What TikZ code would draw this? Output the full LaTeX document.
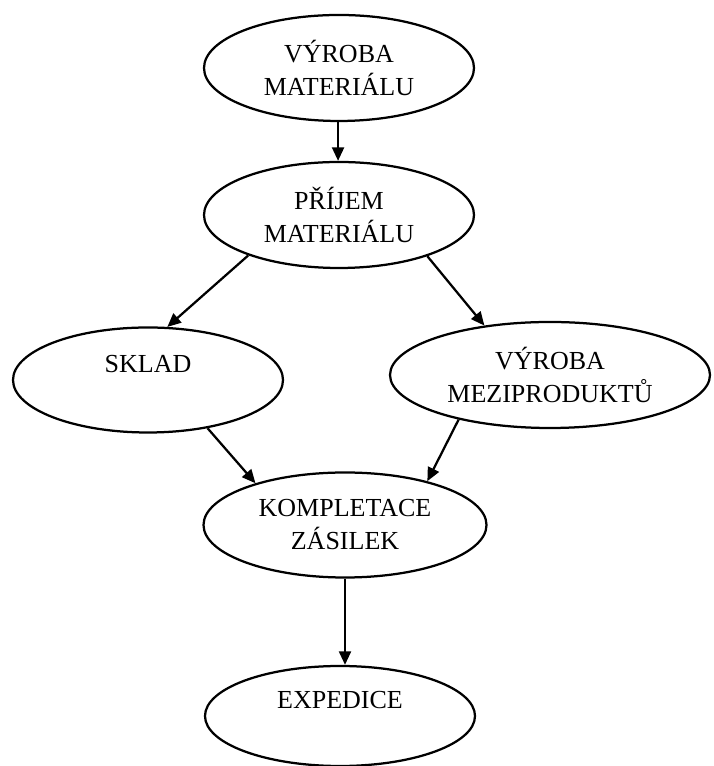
\documentclass[tikz,border=0pt]{standalone}
\usepackage{fontspec}
\setmainfont{Liberation Serif}
\usepackage{tikz}
\usetikzlibrary{arrows.meta,shapes.geometric}
\tikzset{>=Stealth}

\begin{document}
\begin{tikzpicture}[
    proces/.style={draw, ellipse, line width=1.6pt, inner sep=0pt, align=center,
        font=\fontsize{18.5}{23.5}\selectfont, minimum width=6.75cm, minimum height=2.65cm}
]
    \useasboundingbox (0,0) rectangle (17.825,19.15);
    \node[proces] at (8.475,17.45) (vyroba) {VÝROBA\\MATERIÁLU};
    \node[proces] at (8.475,13.775) (prijem) {PŘÍJEM\\MATERIÁLU};
    \node[proces, minimum height=2.625cm] at (3.7,9.65) (sklad) {SKLAD\\\mbox{}};
    \node[proces, minimum width=8cm] at (13.75,9.775) (mezi) {VÝROBA\\MEZIPRODUKTŮ};
    \node[proces, minimum width=7.075cm, minimum height=2.625cm] at (8.625,6.025) (kompl) {KOMPLETACE\\ZÁSILEK};
    \node[proces, minimum height=2.5cm] at (8.5,1.25) (exped) {EXPEDICE\\\mbox{}};
    \path[->, line width=1.6pt, >={Triangle[length=0.34cm,width=0.3cm]}]
    (vyroba.-91) edge (prijem.91)
    (prijem.204) edge (sklad.70)
    (prijem.335) edge (mezi.143)
    (sklad.321) edge (kompl.155)
    (mezi.206) edge (kompl.28)
    (kompl.south) edge (kompl.south |- exped.north)
    ;
\end{tikzpicture}
\end{document}
